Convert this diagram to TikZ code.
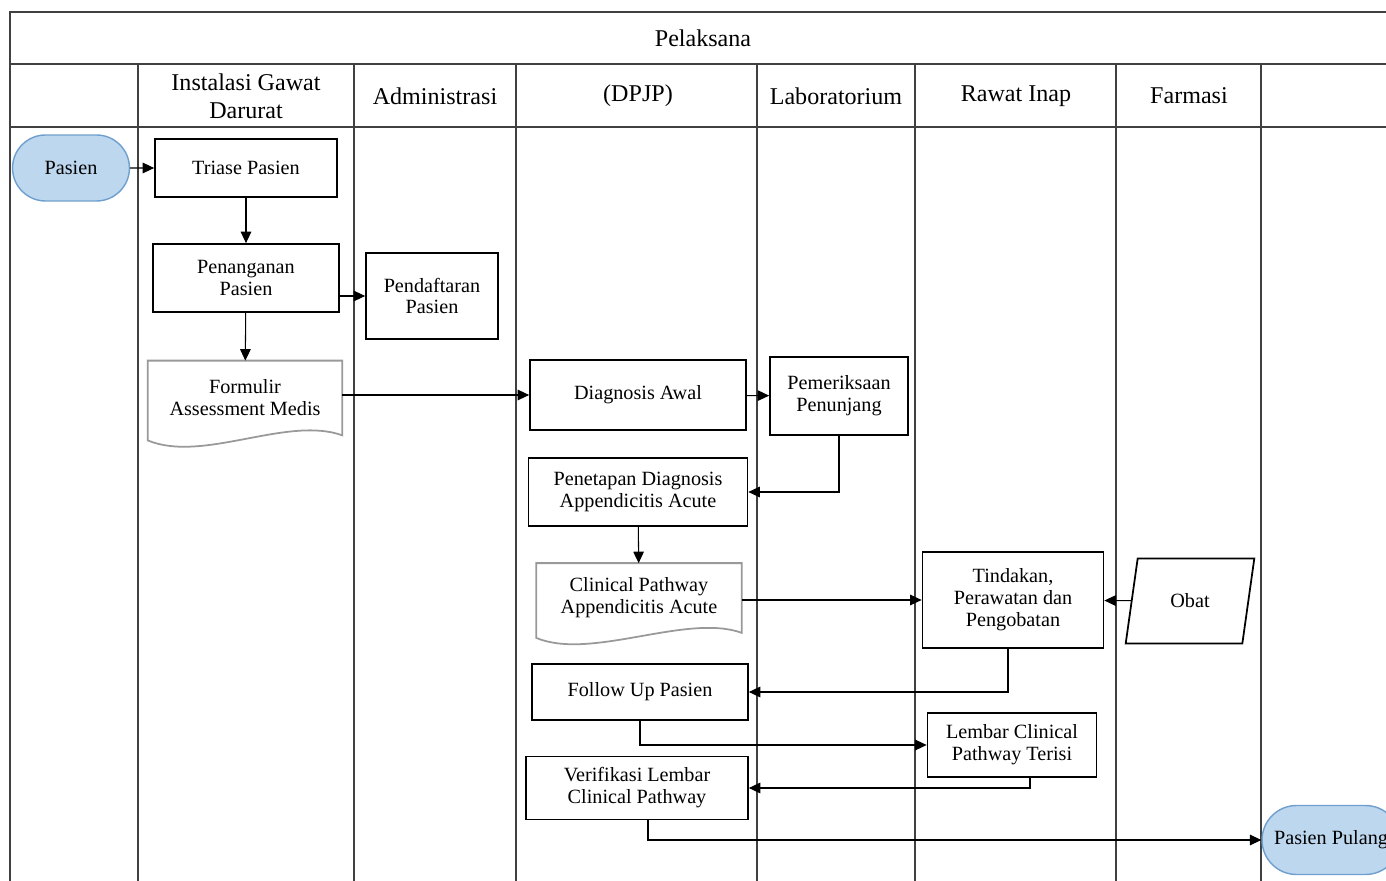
\documentclass[tikz,border=0pt]{standalone}
\usepackage{fontspec}
\setmainfont{Liberation Serif}
\usetikzlibrary{arrows.meta,shapes.geometric,shapes.misc,calc}
\definecolor{termfill}{HTML}{BDD7EE}
\definecolor{termline}{HTML}{6F9FCF}

% wavy bottom of a document symbol, drawn round a named node
\newcommand{\docwave}[1]{%
  \draw[docline] (#1.north west) -- (#1.north east) -- (#1.south east)
    .. controls ($(#1.south east)+(-55,-20)$) and ($(#1.south west)+(55,28)$) .. ($(#1.south west)+(0,5)$) -- cycle;}

\begin{document}
\begin{tikzpicture}[x=0.02cm,y=-0.02cm,
	lane/.style={draw=black!75,line width=0.8pt},
	head/.style={font=\fontsize{13.7}{16}\selectfont,align=center},
	box/.style={draw,line width=1pt,align=center,font=\fontsize{11.5}{12.5}\selectfont,inner sep=2pt},
	doc/.style={box,draw=none},
	docline/.style={draw=black!40,line width=1pt},
	term/.style={box,rounded rectangle,draw=termline,fill=termfill,line width=0.8pt},
	arr/.style={-{Triangle[length=6.5pt,width=6pt]},line width=0.6pt}]
	\useasboundingbox (0,0) rectangle (1386,881);

	% swimlane table
	\draw[lane] (10,881) -- (10,12) -- (1386,12);
	\draw[lane] (10,64) -- (1386,64);
	\draw[lane] (10,127) -- (1386,127);
	\foreach \x in {138,354,516,757,915,1116,1261}
		\draw[lane] (\x,64) -- (\x,881);

	\node (pelaksana) at (703,38)	[head]	{Pelaksana};
	\node (hIGD)   at (246,96)	[head]	{Instalasi Gawat\\Darurat};
	\node (hAdm)   at (435,96)	[head]	{Administrasi};
	\node (hDPJP)  at (638,96)	[head]	{(DPJP)};
	\node (hLab)   at (836,96)	[head]	{Laboratorium};
	\node (hRanap) at (1016,96)	[head]	{Rawat Inap};
	\node (hFarm)  at (1189,96)	[head]	{Farmasi};

	% flow
	\node (pasien)      at (71,168)	[term, minimum width=2.48cm, minimum height=1.32cm]	{Pasien};
	\node (triase)      at (246,168)	[box, minimum width=3.64cm, minimum height=1.16cm]	{Triase Pasien};
	\node (penanganan)  at (246,278)	[box, minimum width=3.72cm, minimum height=1.36cm]	{Penanganan\\Pasien};
	\node (pendaftaran) at (432,296)	[box, minimum width=2.64cm, minimum height=1.72cm]	{Pendaftaran\\Pasien};
	\node (formulir)    at (245,398)	[doc, minimum width=3.86cm, minimum height=1.46cm]	{Formulir\\Assessment Medis};
	\node (diagnosis)   at (638,395)	[box, minimum width=4.32cm, minimum height=1.4cm]	{Diagnosis Awal};
	\node (pemeriksaan) at (839,396)	[box, minimum width=2.76cm, minimum height=1.56cm]	{Pemeriksaan\\Penunjang};
	\node (penetapan)   at (638,492)	[box, minimum width=4.38cm, minimum height=1.36cm]	{Penetapan Diagnosis\\Appendicitis Acute};
	\node (clinical)    at (639,598)	[doc, minimum width=4.08cm, minimum height=1.36cm]	{Clinical Pathway\\Appendicitis Acute};
	\node (tindakan)    at (1013,600)	[box, minimum width=3.62cm, minimum height=1.92cm]	{Tindakan,\\Perawatan dan\\Pengobatan};
	\node (obat)        at (1190,601)	[box, trapezium, trapezium left angle=76, trapezium right angle=104,
		trapezium stretches=true, minimum width=2.58cm, minimum height=1.7cm]	{Obat};
	\node (followup)    at (640,692)	[box, minimum width=4.32cm, minimum height=1.12cm]	{Follow Up Pasien};
	\node (lembar)      at (1012,745)	[box, minimum width=3.38cm, minimum height=1.28cm]	{Lembar Clinical\\Pathway Terisi};
	\node (verifikasi)  at (637,788)	[box, minimum width=4.44cm, minimum height=1.26cm]	{Verifikasi Lembar\\Clinical Pathway};
	\node (pulang)      at (1331,840)	[term, minimum width=2.9cm, minimum height=1.38cm]	{Pasien Pulang};

	\docwave{formulir}
	\docwave{clinical}

	\draw[arr] (pasien) -- (triase);
	\draw[arr] (triase) -- (penanganan);
	\draw[arr] (penanganan.east |- pendaftaran) -- (pendaftaran);
	\draw[arr] (penanganan) -- (formulir);
	\draw[arr] (formulir.east |- diagnosis) -- (diagnosis);
	\draw[arr] (diagnosis) -- (pemeriksaan);
	\draw[arr] (pemeriksaan) |- (penetapan);
	\draw[arr] (penetapan) -- (clinical);
	\draw[arr] (clinical.east |- tindakan) -- (tindakan);
	\draw[arr] (obat) -- (tindakan);
	\draw[arr] ([xshift=-0.1cm]tindakan.south) |- (followup);
	\draw[arr] (followup) |- (lembar);
	\draw[arr] ([xshift=0.36cm]lembar.south) |- (verifikasi);
	\draw[arr] ([xshift=0.22cm]verifikasi.south) |- (pulang);
\end{tikzpicture}
\end{document}
